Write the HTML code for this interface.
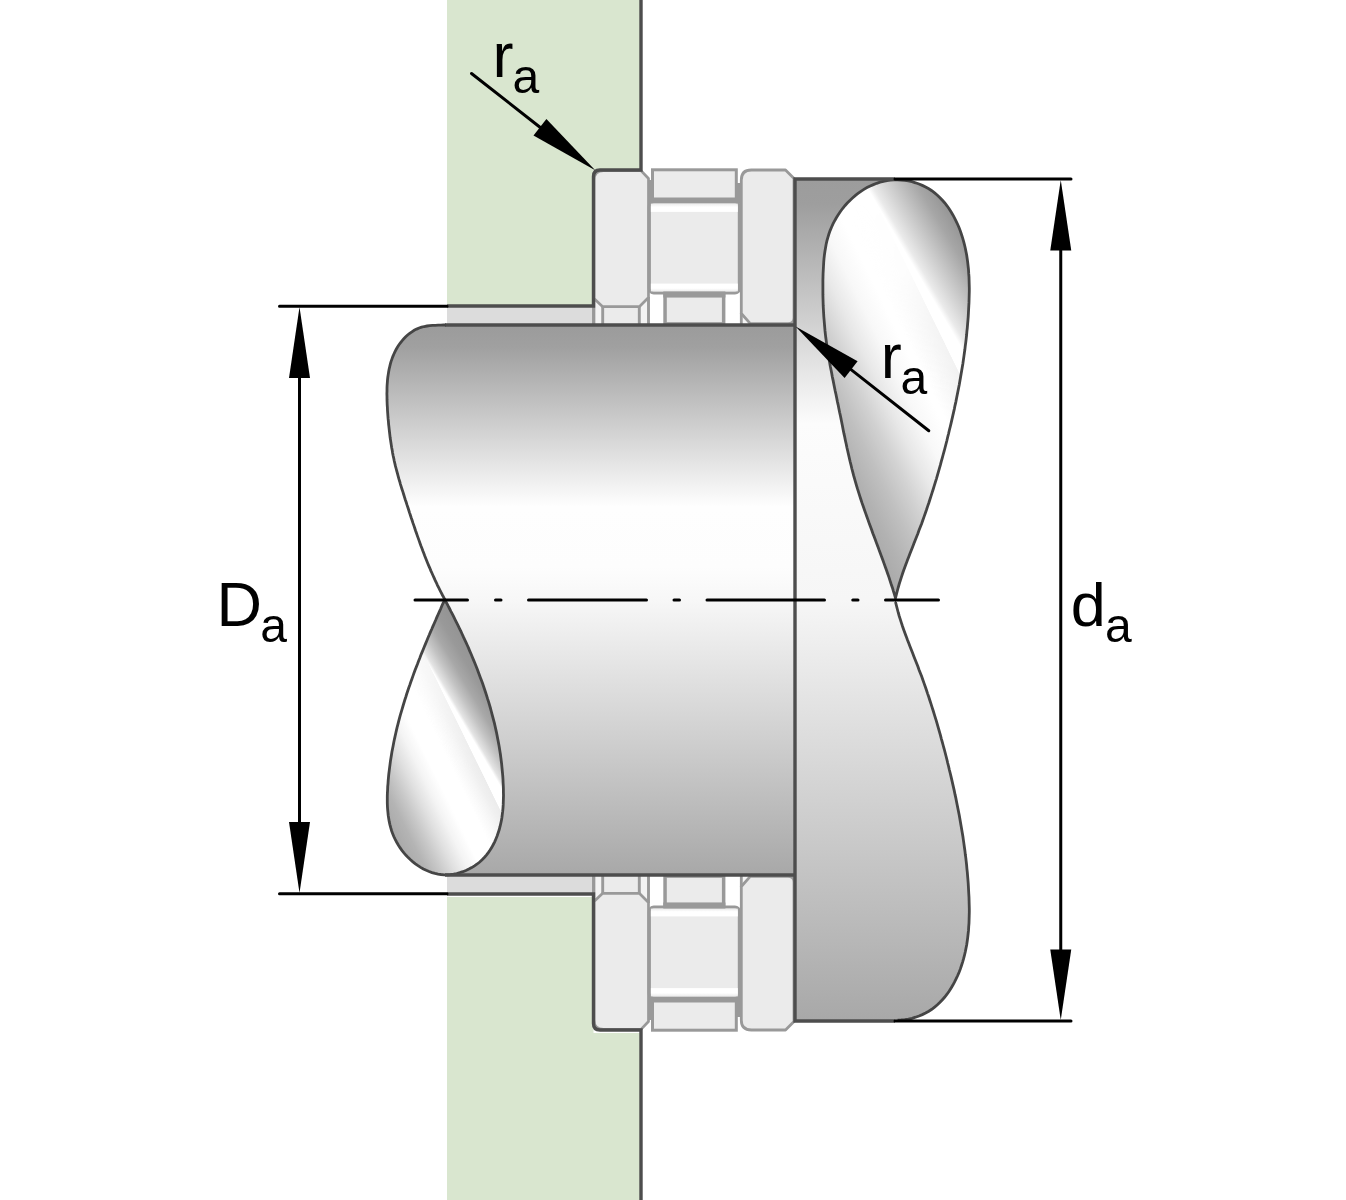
<!DOCTYPE html>
<html><head><meta charset="utf-8">
<style>
html,body{margin:0;padding:0;background:#fff;}
body{width:1346px;height:1200px;overflow:hidden;}
svg{display:block;}
text{font-family:"Liberation Sans",sans-serif;fill:#000;}
</style></head><body>
<svg width="1346" height="1200" viewBox="0 0 1346 1200">
<defs>
<linearGradient id="gShaft" gradientUnits="userSpaceOnUse" x1="0" y1="325" x2="0" y2="875">
<stop offset="0" stop-color="#9b9b9b"/><stop offset="0.04" stop-color="#a0a0a0"/><stop offset="0.33" stop-color="#fefefe"/><stop offset="0.44" stop-color="#fdfdfd"/><stop offset="0.5" stop-color="#f7f7f7"/><stop offset="1" stop-color="#a8a8a8"/>
</linearGradient>
<linearGradient id="gFlange" gradientUnits="userSpaceOnUse" x1="0" y1="179" x2="0" y2="1021">
<stop offset="0" stop-color="#9c9c9c"/><stop offset="0.03" stop-color="#9e9e9e"/><stop offset="0.29" stop-color="#fcfcfc"/><stop offset="0.5" stop-color="#f6f6f6"/><stop offset="1" stop-color="#a8a8a8"/>
</linearGradient>
<linearGradient id="gHi1" x1="0" y1="0" x2="0" y2="1"><stop offset="0" stop-color="#ebebeb"/><stop offset="0.42" stop-color="#fff"/><stop offset="1" stop-color="#fff"/></linearGradient>
<linearGradient id="gHi2" x1="0" y1="0" x2="0" y2="1"><stop offset="0" stop-color="#fff"/><stop offset="0.6" stop-color="#fff"/><stop offset="1" stop-color="#ebebeb"/></linearGradient>
<!--TD--><linearGradient id="gTearR" gradientUnits="userSpaceOnUse" x1="484.92" y1="-237.60" x2="691.46" y2="-338.80"><stop offset="0.0000" stop-color="#a8a8a8"/><stop offset="0.0870" stop-color="#b2b2b2"/><stop offset="0.1739" stop-color="#c0c0c0"/><stop offset="0.2609" stop-color="#d2d2d2"/><stop offset="0.3478" stop-color="#e8e8e8"/><stop offset="0.4348" stop-color="#f8f8f8"/><stop offset="0.5217" stop-color="#ffffff"/><stop offset="1.0000" stop-color="#ffffff"/></linearGradient>
<linearGradient id="gTearR2" gradientUnits="userSpaceOnUse" x1="561.76" y1="-330.89" x2="633.28" y2="-373.01"><stop offset="0.0000" stop-color="#eaeaea" stop-opacity="0"/><stop offset="0.0663" stop-color="#eaeaea"/><stop offset="0.1988" stop-color="#d6d6d6"/><stop offset="0.3675" stop-color="#bebebe"/><stop offset="0.5361" stop-color="#a6a6a6"/><stop offset="0.6928" stop-color="#989898"/><stop offset="1.0000" stop-color="#949494"/></linearGradient>
<linearGradient id="gTearR3" gradientUnits="userSpaceOnUse" x1="597.17" y1="-292.60" x2="628.60" y2="-308.00"><stop offset="0.0000" stop-color="#f4f4f4" stop-opacity="0"/><stop offset="0.6571" stop-color="#f4f4f4"/><stop offset="0.9143" stop-color="#f0f0f0"/><stop offset="0.9314" stop-color="#f0f0f0" stop-opacity="0"/><stop offset="1.0000" stop-color="#ececec" stop-opacity="0"/></linearGradient>
<linearGradient id="mR2" gradientUnits="userSpaceOnUse" x1="237.60" y1="484.92" x2="374.00" y2="763.30"><stop offset="0.0000" stop-color="#ffffff"/><stop offset="0.3226" stop-color="#f5f5f5"/><stop offset="0.5161" stop-color="#a0a0a0"/><stop offset="0.7645" stop-color="#282828"/><stop offset="1.0000" stop-color="#000000"/></linearGradient>
<linearGradient id="mR3" gradientUnits="userSpaceOnUse" x1="246.40" y1="502.88" x2="396.00" y2="808.20"><stop offset="0.0000" stop-color="#000000"/><stop offset="0.2353" stop-color="#282828"/><stop offset="0.4118" stop-color="#b4b4b4"/><stop offset="0.6382" stop-color="#ffffff"/><stop offset="1.0000" stop-color="#ffffff"/></linearGradient>
<linearGradient id="gTearL" gradientUnits="userSpaceOnUse" x1="-13.47" y1="6.60" x2="125.72" y2="-61.60"><stop offset="0.0000" stop-color="#a8a8a8"/><stop offset="0.0968" stop-color="#b4b4b4"/><stop offset="0.1742" stop-color="#c8c8c8"/><stop offset="0.2581" stop-color="#e0e0e0"/><stop offset="0.3419" stop-color="#f4f4f4"/><stop offset="0.4194" stop-color="#ffffff"/><stop offset="1.0000" stop-color="#ffffff"/></linearGradient>
<linearGradient id="gTearL2" gradientUnits="userSpaceOnUse" x1="27.57" y1="-16.24" x2="66.34" y2="-39.08"><stop offset="0.0000" stop-color="#e4e4e4" stop-opacity="0"/><stop offset="0.0667" stop-color="#e4e4e4"/><stop offset="0.2667" stop-color="#c4c4c4"/><stop offset="0.4889" stop-color="#a8a8a8"/><stop offset="0.7333" stop-color="#999999"/><stop offset="1.0000" stop-color="#949494"/></linearGradient>
<linearGradient id="gTearL3" gradientUnits="userSpaceOnUse" x1="61.06" y1="-29.92" x2="85.31" y2="-41.80"><stop offset="0.0000" stop-color="#f4f4f4" stop-opacity="0"/><stop offset="0.6667" stop-color="#f0f0f0"/><stop offset="0.9111" stop-color="#ececec"/><stop offset="0.9333" stop-color="#ececec" stop-opacity="0"/><stop offset="1.0000" stop-color="#e4e4e4" stop-opacity="0"/></linearGradient>
<linearGradient id="mL2" gradientUnits="userSpaceOnUse" x1="321.20" y1="655.54" x2="435.60" y2="889.02"><stop offset="0.0000" stop-color="#ffffff"/><stop offset="0.4615" stop-color="#ebebeb"/><stop offset="0.6538" stop-color="#969696"/><stop offset="0.8077" stop-color="#505050"/><stop offset="1.0000" stop-color="#141414"/></linearGradient>
<linearGradient id="mL3" gradientUnits="userSpaceOnUse" x1="321.20" y1="655.54" x2="440.00" y2="898.00"><stop offset="0.0000" stop-color="#282828"/><stop offset="0.4444" stop-color="#c8c8c8"/><stop offset="0.6296" stop-color="#ffffff"/><stop offset="1.0000" stop-color="#ffffff"/></linearGradient>
<mask id="kmR2" maskUnits="userSpaceOnUse" x="0" y="0" width="1346" height="1200"><rect x="0" y="0" width="1346" height="1200" fill="url(#mR2)"/></mask>
<mask id="kmR3" maskUnits="userSpaceOnUse" x="0" y="0" width="1346" height="1200"><rect x="0" y="0" width="1346" height="1200" fill="url(#mR3)"/></mask>
<mask id="kmL2" maskUnits="userSpaceOnUse" x="0" y="0" width="1346" height="1200"><rect x="0" y="0" width="1346" height="1200" fill="url(#mL2)"/></mask>
<mask id="kmL3" maskUnits="userSpaceOnUse" x="0" y="0" width="1346" height="1200"><rect x="0" y="0" width="1346" height="1200" fill="url(#mL3)"/></mask>
<!--/TD-->
</defs>

<!-- housing green -->
<path d="M447 0H641V170H593.5V306H447Z" fill="#d9e6cf"/>
<path d="M447 1200H641V1033H593.5V897H447Z" fill="#d9e6cf"/>
<!-- light grey strips -->
<rect x="447" y="307" width="147" height="18" fill="#dcdcdc"/>
<rect x="447" y="875" width="147" height="18" fill="#dcdcdc"/>

<!-- flange -->
<path id="flange" d="M795 179H897.6L897.6 179.8L901.2 180.0L904.8 180.4L908.4 180.9L912.0 181.7L915.5 182.8L919.0 184.0L922.3 185.4L925.6 187.0L928.8 188.8L931.8 190.7L934.6 192.9L937.4 195.2L940.0 197.7L942.4 200.3L944.8 203.0L947.0 205.8L949.1 208.8L951.0 211.8L952.9 214.9L954.6 218.1L956.2 221.3L957.7 224.5L959.1 227.8L960.4 231.1L961.5 234.5L962.6 237.9L963.6 241.3L964.5 244.8L965.3 248.2L966.0 251.7L966.7 255.3L967.2 258.8L967.7 262.4L968.1 266.0L968.5 269.6L968.7 273.2L969.0 276.8L969.1 280.4L969.2 284.1L969.3 287.7L969.3 291.4L969.2 295.0L969.1 298.7L969.0 302.4L968.8 306.0L968.6 309.7L968.4 313.3L968.2 316.9L967.9 320.6L967.6 324.2L967.3 327.8L966.9 331.4L966.6 335.0L966.2 338.6L965.8 342.1L965.3 345.7L964.9 349.3L964.4 352.8L963.9 356.4L963.4 359.9L962.9 363.5L962.3 367.0L961.7 370.5L961.1 374.0L960.5 377.6L959.9 381.1L959.3 384.6L958.6 388.1L957.9 391.6L957.2 395.1L956.5 398.6L955.8 402.1L955.0 405.6L954.3 409.1L953.5 412.6L952.7 416.1L951.9 419.6L951.1 423.1L950.3 426.5L949.4 430.0L948.6 433.5L947.7 437.0L946.9 440.5L946.0 444.0L945.1 447.5L944.2 451.0L943.2 454.5L942.3 457.9L941.3 461.4L940.4 464.9L939.4 468.4L938.4 471.9L937.4 475.3L936.4 478.8L935.3 482.3L934.3 485.7L933.2 489.2L932.1 492.6L931.0 496.1L929.9 499.5L928.8 503.0L927.6 506.4L926.5 509.8L925.3 513.2L924.1 516.6L922.9 520.0L921.7 523.4L920.4 526.8L919.1 530.1L917.9 533.5L916.6 536.8L915.2 540.2L913.9 543.5L912.6 546.9L911.3 550.2L910.0 553.5L908.7 556.9L907.4 560.2L906.2 563.6L904.9 567.0L903.7 570.3L902.5 573.7L901.4 577.1L900.3 580.6L899.2 584.0L898.2 587.5L897.3 591.0L896.4 594.5L895.5 598.0L895.5 602.0L896.4 605.5L897.3 609.0L898.2 612.5L899.2 616.0L900.3 619.4L901.4 622.9L902.5 626.3L903.7 629.7L904.9 633.0L906.2 636.4L907.4 639.8L908.7 643.1L910.0 646.5L911.3 649.8L912.6 653.1L913.9 656.5L915.2 659.8L916.6 663.2L917.9 666.5L919.1 669.9L920.4 673.2L921.7 676.6L922.9 680.0L924.1 683.4L925.3 686.8L926.5 690.2L927.6 693.6L928.8 697.0L929.9 700.5L931.0 703.9L932.1 707.4L933.2 710.8L934.3 714.3L935.3 717.7L936.4 721.2L937.4 724.7L938.4 728.1L939.4 731.6L940.4 735.1L941.3 738.6L942.3 742.1L943.2 745.5L944.2 749.0L945.1 752.5L946.0 756.0L946.9 759.5L947.7 763.0L948.6 766.5L949.4 770.0L950.3 773.5L951.1 776.9L951.9 780.4L952.7 783.9L953.5 787.4L954.3 790.9L955.0 794.4L955.8 797.9L956.5 801.4L957.2 804.9L957.9 808.4L958.6 811.9L959.3 815.4L959.9 818.9L960.5 822.4L961.1 826.0L961.7 829.5L962.3 833.0L962.9 836.5L963.4 840.1L963.9 843.6L964.4 847.2L964.9 850.7L965.3 854.3L965.8 857.9L966.2 861.4L966.6 865.0L966.9 868.6L967.3 872.2L967.6 875.8L967.9 879.4L968.2 883.1L968.4 886.7L968.6 890.3L968.8 894.0L969.0 897.6L969.1 901.3L969.2 905.0L969.3 908.6L969.3 912.3L969.2 915.9L969.1 919.6L969.0 923.2L968.7 926.8L968.5 930.4L968.1 934.0L967.7 937.6L967.2 941.2L966.7 944.7L966.0 948.3L965.3 951.8L964.5 955.2L963.6 958.7L962.6 962.1L961.5 965.5L960.4 968.9L959.1 972.2L957.7 975.5L956.2 978.7L954.6 981.9L952.9 985.1L951.0 988.2L949.1 991.2L947.0 994.2L944.8 997.0L942.4 999.7L940.0 1002.3L937.4 1004.8L934.6 1007.1L931.8 1009.3L928.8 1011.2L925.6 1013.0L922.3 1014.6L919.0 1016.0L915.5 1017.2L912.0 1018.3L908.4 1019.1L904.8 1019.6L901.2 1020.0L897.6 1020.2H795Z" fill="url(#gFlange)"/>
<!-- shaft -->
<path id="shaft" d="M795 325H446.0L446.0 325.0L443.5 325.0L440.8 325.1L438.1 325.2L435.3 325.3L432.5 325.4L429.7 325.6L427.0 326.0L424.3 326.5L421.6 327.1L419.1 328.0L416.6 329.1L414.2 330.3L411.9 331.8L409.7 333.3L407.6 335.0L405.7 336.8L403.8 338.8L402.0 340.8L400.4 342.9L398.8 345.0L397.4 347.2L396.1 349.5L394.9 351.8L393.8 354.2L392.8 356.6L391.9 359.1L391.0 361.6L390.3 364.1L389.7 366.7L389.1 369.3L388.6 372.0L388.2 374.6L387.8 377.3L387.5 380.0L387.3 382.8L387.1 385.5L387.0 388.3L387.0 391.1L386.9 393.8L387.0 396.6L387.0 399.4L387.1 402.2L387.2 405.0L387.4 407.7L387.5 410.5L387.7 413.2L387.9 416.0L388.1 418.7L388.4 421.4L388.6 424.1L388.9 426.7L389.2 429.4L389.5 432.0L389.8 434.7L390.1 437.3L390.5 439.9L390.9 442.5L391.3 445.1L391.7 447.7L392.2 450.3L392.6 452.9L393.1 455.5L393.7 458.1L394.2 460.7L394.8 463.3L395.4 465.9L396.1 468.5L396.8 471.1L397.5 473.7L398.2 476.3L398.9 478.9L399.7 481.5L400.4 484.1L401.2 486.7L402.0 489.3L402.9 491.9L403.7 494.5L404.5 497.1L405.3 499.7L406.2 502.3L407.0 504.9L407.9 507.5L408.7 510.0L409.5 512.6L410.4 515.2L411.2 517.7L412.1 520.3L412.9 522.9L413.8 525.4L414.7 528.0L415.5 530.5L416.4 533.0L417.3 535.6L418.2 538.1L419.1 540.6L420.0 543.2L420.9 545.7L421.9 548.2L422.8 550.7L423.8 553.2L424.7 555.7L425.7 558.2L426.7 560.7L427.7 563.2L428.7 565.6L429.8 568.1L430.8 570.6L431.9 573.0L433.0 575.5L434.1 577.9L435.2 580.4L436.4 582.8L437.5 585.3L438.7 587.7L439.9 590.1L441.2 592.6L442.4 595.0L443.7 597.4L444.9 599.8L444.9 600.2L446.6 602.9L448.0 605.7L449.5 608.5L450.9 611.3L452.4 614.1L453.8 616.9L455.2 619.8L456.6 622.6L458.0 625.4L459.4 628.3L460.8 631.1L462.1 634.0L463.4 636.9L464.8 639.8L466.1 642.6L467.4 645.5L468.7 648.4L469.9 651.4L471.2 654.3L472.4 657.2L473.6 660.1L474.8 663.1L476.0 666.0L477.2 669.0L478.3 671.9L479.4 674.9L480.5 677.9L481.6 680.8L482.7 683.8L483.7 686.8L484.7 689.8L485.7 692.8L486.7 695.8L487.6 698.9L488.6 701.9L489.5 704.9L490.4 708.0L491.2 711.0L492.0 714.1L492.8 717.1L493.6 720.2L494.4 723.2L495.1 726.3L495.8 729.4L496.5 732.5L497.1 735.6L497.7 738.7L498.3 741.8L498.9 744.9L499.4 748.0L499.9 751.1L500.4 754.3L500.8 757.4L501.2 760.5L501.6 763.7L501.9 766.8L502.2 770.0L502.5 773.1L502.8 776.3L503.0 779.5L503.1 782.6L503.3 785.8L503.4 789.0L503.4 792.2L503.5 795.4L503.4 798.6L503.3 801.7L503.2 804.9L503.0 808.1L502.7 811.2L502.3 814.4L501.9 817.5L501.4 820.6L500.7 823.7L500.0 826.7L499.2 829.8L498.2 832.8L497.2 835.8L496.0 838.7L494.8 841.6L493.3 844.5L491.8 847.3L490.1 850.0L488.3 852.6L486.4 855.1L484.3 857.5L482.1 859.8L479.7 862.0L477.2 864.0L474.5 865.9L471.7 867.6L468.9 869.1L465.9 870.5L462.9 871.7L459.8 872.7L456.7 873.5L453.6 874.1L450.4 874.6L447.3 874.8H795Z" fill="url(#gShaft)"/>

<!-- teardrops -->
<path d="M895.5 598.0L896.4 594.5L897.3 591.0L898.2 587.5L899.2 584.0L900.3 580.6L901.4 577.1L902.5 573.7L903.7 570.3L904.9 567.0L906.2 563.6L907.4 560.2L908.7 556.9L910.0 553.5L911.3 550.2L912.6 546.9L913.9 543.5L915.2 540.2L916.6 536.8L917.9 533.5L919.1 530.1L920.4 526.8L921.7 523.4L922.9 520.0L924.1 516.6L925.3 513.2L926.5 509.8L927.6 506.4L928.8 503.0L929.9 499.5L931.0 496.1L932.1 492.6L933.2 489.2L934.3 485.7L935.3 482.3L936.4 478.8L937.4 475.3L938.4 471.9L939.4 468.4L940.4 464.9L941.3 461.4L942.3 457.9L943.2 454.5L944.2 451.0L945.1 447.5L946.0 444.0L946.9 440.5L947.7 437.0L948.6 433.5L949.4 430.0L950.3 426.5L951.1 423.1L951.9 419.6L952.7 416.1L953.5 412.6L954.3 409.1L955.0 405.6L955.8 402.1L956.5 398.6L957.2 395.1L957.9 391.6L958.6 388.1L959.3 384.6L959.9 381.1L960.5 377.6L961.1 374.0L961.7 370.5L962.3 367.0L962.9 363.5L963.4 359.9L963.9 356.4L964.4 352.8L964.9 349.3L965.3 345.7L965.8 342.1L966.2 338.6L966.6 335.0L966.9 331.4L967.3 327.8L967.6 324.2L967.9 320.6L968.2 316.9L968.4 313.3L968.6 309.7L968.8 306.0L969.0 302.4L969.1 298.7L969.2 295.0L969.3 291.4L969.3 287.7L969.2 284.1L969.1 280.4L969.0 276.8L968.7 273.2L968.5 269.6L968.1 266.0L967.7 262.4L967.2 258.8L966.7 255.3L966.0 251.7L965.3 248.2L964.5 244.8L963.6 241.3L962.6 237.9L961.5 234.5L960.4 231.1L959.1 227.8L957.7 224.5L956.2 221.3L954.6 218.1L952.9 214.9L951.0 211.8L949.1 208.8L947.0 205.8L944.8 203.0L942.4 200.3L940.0 197.7L937.4 195.2L934.6 192.9L931.8 190.7L928.8 188.8L925.6 187.0L922.3 185.4L919.0 184.0L915.5 182.8L912.0 181.7L908.4 180.9L904.8 180.4L901.2 180.0L897.6 179.8L894.0 179.9L890.4 180.2L886.9 180.6L883.4 181.3L880.0 182.2L876.7 183.3L873.4 184.6L870.2 186.0L867.0 187.6L863.9 189.4L860.9 191.3L858.0 193.4L855.2 195.6L852.5 198.0L849.9 200.4L847.3 203.0L844.9 205.7L842.6 208.5L840.4 211.5L838.4 214.5L836.5 217.5L834.7 220.7L833.0 223.9L831.5 227.2L830.1 230.6L828.9 234.0L827.9 237.4L826.9 240.9L826.1 244.4L825.5 248.0L824.9 251.5L824.4 255.1L824.0 258.7L823.7 262.4L823.5 266.0L823.3 269.6L823.1 273.2L823.0 276.9L822.9 280.5L822.9 284.1L822.9 287.7L822.9 291.3L822.9 294.9L823.0 298.5L823.1 302.1L823.2 305.7L823.4 309.3L823.6 312.9L823.8 316.5L824.1 320.0L824.4 323.6L824.7 327.2L825.0 330.7L825.4 334.3L825.8 337.8L826.3 341.4L826.8 344.9L827.3 348.5L827.9 352.0L828.4 355.6L829.0 359.1L829.7 362.7L830.3 366.2L831.0 369.8L831.7 373.3L832.3 376.8L833.1 380.4L833.8 383.9L834.5 387.4L835.2 391.0L836.0 394.5L836.7 398.1L837.4 401.6L838.2 405.1L838.9 408.7L839.6 412.2L840.4 415.7L841.1 419.3L841.8 422.8L842.5 426.3L843.2 429.9L843.9 433.4L844.7 436.9L845.4 440.4L846.2 444.0L846.9 447.5L847.7 451.0L848.5 454.5L849.3 458.0L850.1 461.5L851.0 465.0L851.8 468.5L852.7 471.9L853.6 475.4L854.6 478.9L855.6 482.3L856.6 485.8L857.6 489.2L858.7 492.6L859.8 496.1L860.9 499.5L862.0 502.9L863.2 506.3L864.4 509.7L865.6 513.1L866.8 516.5L868.0 519.9L869.2 523.3L870.5 526.7L871.7 530.0L872.9 533.4L874.2 536.8L875.5 540.2L876.7 543.6L878.0 546.9L879.2 550.3L880.5 553.7L881.7 557.1L883.0 560.5L884.2 563.9L885.4 567.3L886.6 570.6L887.8 574.0L889.0 577.4L890.1 580.9L891.2 584.3L892.4 587.7L893.4 591.1L894.5 594.5L895.5 598.0Z" fill="url(#gTearR)"/>
<path d="M895.5 598.0L896.4 594.5L897.3 591.0L898.2 587.5L899.2 584.0L900.3 580.6L901.4 577.1L902.5 573.7L903.7 570.3L904.9 567.0L906.2 563.6L907.4 560.2L908.7 556.9L910.0 553.5L911.3 550.2L912.6 546.9L913.9 543.5L915.2 540.2L916.6 536.8L917.9 533.5L919.1 530.1L920.4 526.8L921.7 523.4L922.9 520.0L924.1 516.6L925.3 513.2L926.5 509.8L927.6 506.4L928.8 503.0L929.9 499.5L931.0 496.1L932.1 492.6L933.2 489.2L934.3 485.7L935.3 482.3L936.4 478.8L937.4 475.3L938.4 471.9L939.4 468.4L940.4 464.9L941.3 461.4L942.3 457.9L943.2 454.5L944.2 451.0L945.1 447.5L946.0 444.0L946.9 440.5L947.7 437.0L948.6 433.5L949.4 430.0L950.3 426.5L951.1 423.1L951.9 419.6L952.7 416.1L953.5 412.6L954.3 409.1L955.0 405.6L955.8 402.1L956.5 398.6L957.2 395.1L957.9 391.6L958.6 388.1L959.3 384.6L959.9 381.1L960.5 377.6L961.1 374.0L961.7 370.5L962.3 367.0L962.9 363.5L963.4 359.9L963.9 356.4L964.4 352.8L964.9 349.3L965.3 345.7L965.8 342.1L966.2 338.6L966.6 335.0L966.9 331.4L967.3 327.8L967.6 324.2L967.9 320.6L968.2 316.9L968.4 313.3L968.6 309.7L968.8 306.0L969.0 302.4L969.1 298.7L969.2 295.0L969.3 291.4L969.3 287.7L969.2 284.1L969.1 280.4L969.0 276.8L968.7 273.2L968.5 269.6L968.1 266.0L967.7 262.4L967.2 258.8L966.7 255.3L966.0 251.7L965.3 248.2L964.5 244.8L963.6 241.3L962.6 237.9L961.5 234.5L960.4 231.1L959.1 227.8L957.7 224.5L956.2 221.3L954.6 218.1L952.9 214.9L951.0 211.8L949.1 208.8L947.0 205.8L944.8 203.0L942.4 200.3L940.0 197.7L937.4 195.2L934.6 192.9L931.8 190.7L928.8 188.8L925.6 187.0L922.3 185.4L919.0 184.0L915.5 182.8L912.0 181.7L908.4 180.9L904.8 180.4L901.2 180.0L897.6 179.8L894.0 179.9L890.4 180.2L886.9 180.6L883.4 181.3L880.0 182.2L876.7 183.3L873.4 184.6L870.2 186.0L867.0 187.6L863.9 189.4L860.9 191.3L858.0 193.4L855.2 195.6L852.5 198.0L849.9 200.4L847.3 203.0L844.9 205.7L842.6 208.5L840.4 211.5L838.4 214.5L836.5 217.5L834.7 220.7L833.0 223.9L831.5 227.2L830.1 230.6L828.9 234.0L827.9 237.4L826.9 240.9L826.1 244.4L825.5 248.0L824.9 251.5L824.4 255.1L824.0 258.7L823.7 262.4L823.5 266.0L823.3 269.6L823.1 273.2L823.0 276.9L822.9 280.5L822.9 284.1L822.9 287.7L822.9 291.3L822.9 294.9L823.0 298.5L823.1 302.1L823.2 305.7L823.4 309.3L823.6 312.9L823.8 316.5L824.1 320.0L824.4 323.6L824.7 327.2L825.0 330.7L825.4 334.3L825.8 337.8L826.3 341.4L826.8 344.9L827.3 348.5L827.9 352.0L828.4 355.6L829.0 359.1L829.7 362.7L830.3 366.2L831.0 369.8L831.7 373.3L832.3 376.8L833.1 380.4L833.8 383.9L834.5 387.4L835.2 391.0L836.0 394.5L836.7 398.1L837.4 401.6L838.2 405.1L838.9 408.7L839.6 412.2L840.4 415.7L841.1 419.3L841.8 422.8L842.5 426.3L843.2 429.9L843.9 433.4L844.7 436.9L845.4 440.4L846.2 444.0L846.9 447.5L847.7 451.0L848.5 454.5L849.3 458.0L850.1 461.5L851.0 465.0L851.8 468.5L852.7 471.9L853.6 475.4L854.6 478.9L855.6 482.3L856.6 485.8L857.6 489.2L858.7 492.6L859.8 496.1L860.9 499.5L862.0 502.9L863.2 506.3L864.4 509.7L865.6 513.1L866.8 516.5L868.0 519.9L869.2 523.3L870.5 526.7L871.7 530.0L872.9 533.4L874.2 536.8L875.5 540.2L876.7 543.6L878.0 546.9L879.2 550.3L880.5 553.7L881.7 557.1L883.0 560.5L884.2 563.9L885.4 567.3L886.6 570.6L887.8 574.0L889.0 577.4L890.1 580.9L891.2 584.3L892.4 587.7L893.4 591.1L894.5 594.5L895.5 598.0Z" fill="url(#gTearR2)"/>
<path d="M895.5 598.0L896.4 594.5L897.3 591.0L898.2 587.5L899.2 584.0L900.3 580.6L901.4 577.1L902.5 573.7L903.7 570.3L904.9 567.0L906.2 563.6L907.4 560.2L908.7 556.9L910.0 553.5L911.3 550.2L912.6 546.9L913.9 543.5L915.2 540.2L916.6 536.8L917.9 533.5L919.1 530.1L920.4 526.8L921.7 523.4L922.9 520.0L924.1 516.6L925.3 513.2L926.5 509.8L927.6 506.4L928.8 503.0L929.9 499.5L931.0 496.1L932.1 492.6L933.2 489.2L934.3 485.7L935.3 482.3L936.4 478.8L937.4 475.3L938.4 471.9L939.4 468.4L940.4 464.9L941.3 461.4L942.3 457.9L943.2 454.5L944.2 451.0L945.1 447.5L946.0 444.0L946.9 440.5L947.7 437.0L948.6 433.5L949.4 430.0L950.3 426.5L951.1 423.1L951.9 419.6L952.7 416.1L953.5 412.6L954.3 409.1L955.0 405.6L955.8 402.1L956.5 398.6L957.2 395.1L957.9 391.6L958.6 388.1L959.3 384.6L959.9 381.1L960.5 377.6L961.1 374.0L961.7 370.5L962.3 367.0L962.9 363.5L963.4 359.9L963.9 356.4L964.4 352.8L964.9 349.3L965.3 345.7L965.8 342.1L966.2 338.6L966.6 335.0L966.9 331.4L967.3 327.8L967.6 324.2L967.9 320.6L968.2 316.9L968.4 313.3L968.6 309.7L968.8 306.0L969.0 302.4L969.1 298.7L969.2 295.0L969.3 291.4L969.3 287.7L969.2 284.1L969.1 280.4L969.0 276.8L968.7 273.2L968.5 269.6L968.1 266.0L967.7 262.4L967.2 258.8L966.7 255.3L966.0 251.7L965.3 248.2L964.5 244.8L963.6 241.3L962.6 237.9L961.5 234.5L960.4 231.1L959.1 227.8L957.7 224.5L956.2 221.3L954.6 218.1L952.9 214.9L951.0 211.8L949.1 208.8L947.0 205.8L944.8 203.0L942.4 200.3L940.0 197.7L937.4 195.2L934.6 192.9L931.8 190.7L928.8 188.8L925.6 187.0L922.3 185.4L919.0 184.0L915.5 182.8L912.0 181.7L908.4 180.9L904.8 180.4L901.2 180.0L897.6 179.8L894.0 179.9L890.4 180.2L886.9 180.6L883.4 181.3L880.0 182.2L876.7 183.3L873.4 184.6L870.2 186.0L867.0 187.6L863.9 189.4L860.9 191.3L858.0 193.4L855.2 195.6L852.5 198.0L849.9 200.4L847.3 203.0L844.9 205.7L842.6 208.5L840.4 211.5L838.4 214.5L836.5 217.5L834.7 220.7L833.0 223.9L831.5 227.2L830.1 230.6L828.9 234.0L827.9 237.4L826.9 240.9L826.1 244.4L825.5 248.0L824.9 251.5L824.4 255.1L824.0 258.7L823.7 262.4L823.5 266.0L823.3 269.6L823.1 273.2L823.0 276.9L822.9 280.5L822.9 284.1L822.9 287.7L822.9 291.3L822.9 294.9L823.0 298.5L823.1 302.1L823.2 305.7L823.4 309.3L823.6 312.9L823.8 316.5L824.1 320.0L824.4 323.6L824.7 327.2L825.0 330.7L825.4 334.3L825.8 337.8L826.3 341.4L826.8 344.9L827.3 348.5L827.9 352.0L828.4 355.6L829.0 359.1L829.7 362.7L830.3 366.2L831.0 369.8L831.7 373.3L832.3 376.8L833.1 380.4L833.8 383.9L834.5 387.4L835.2 391.0L836.0 394.5L836.7 398.1L837.4 401.6L838.2 405.1L838.9 408.7L839.6 412.2L840.4 415.7L841.1 419.3L841.8 422.8L842.5 426.3L843.2 429.9L843.9 433.4L844.7 436.9L845.4 440.4L846.2 444.0L846.9 447.5L847.7 451.0L848.5 454.5L849.3 458.0L850.1 461.5L851.0 465.0L851.8 468.5L852.7 471.9L853.6 475.4L854.6 478.9L855.6 482.3L856.6 485.8L857.6 489.2L858.7 492.6L859.8 496.1L860.9 499.5L862.0 502.9L863.2 506.3L864.4 509.7L865.6 513.1L866.8 516.5L868.0 519.9L869.2 523.3L870.5 526.7L871.7 530.0L872.9 533.4L874.2 536.8L875.5 540.2L876.7 543.6L878.0 546.9L879.2 550.3L880.5 553.7L881.7 557.1L883.0 560.5L884.2 563.9L885.4 567.3L886.6 570.6L887.8 574.0L889.0 577.4L890.1 580.9L891.2 584.3L892.4 587.7L893.4 591.1L894.5 594.5L895.5 598.0Z" fill="url(#gTearR3)" mask="url(#kmR3)"/>
<path id="tearR" d="M895.5 598.0L896.4 594.5L897.3 591.0L898.2 587.5L899.2 584.0L900.3 580.6L901.4 577.1L902.5 573.7L903.7 570.3L904.9 567.0L906.2 563.6L907.4 560.2L908.7 556.9L910.0 553.5L911.3 550.2L912.6 546.9L913.9 543.5L915.2 540.2L916.6 536.8L917.9 533.5L919.1 530.1L920.4 526.8L921.7 523.4L922.9 520.0L924.1 516.6L925.3 513.2L926.5 509.8L927.6 506.4L928.8 503.0L929.9 499.5L931.0 496.1L932.1 492.6L933.2 489.2L934.3 485.7L935.3 482.3L936.4 478.8L937.4 475.3L938.4 471.9L939.4 468.4L940.4 464.9L941.3 461.4L942.3 457.9L943.2 454.5L944.2 451.0L945.1 447.5L946.0 444.0L946.9 440.5L947.7 437.0L948.6 433.5L949.4 430.0L950.3 426.5L951.1 423.1L951.9 419.6L952.7 416.1L953.5 412.6L954.3 409.1L955.0 405.6L955.8 402.1L956.5 398.6L957.2 395.1L957.9 391.6L958.6 388.1L959.3 384.6L959.9 381.1L960.5 377.6L961.1 374.0L961.7 370.5L962.3 367.0L962.9 363.5L963.4 359.9L963.9 356.4L964.4 352.8L964.9 349.3L965.3 345.7L965.8 342.1L966.2 338.6L966.6 335.0L966.9 331.4L967.3 327.8L967.6 324.2L967.9 320.6L968.2 316.9L968.4 313.3L968.6 309.7L968.8 306.0L969.0 302.4L969.1 298.7L969.2 295.0L969.3 291.4L969.3 287.7L969.2 284.1L969.1 280.4L969.0 276.8L968.7 273.2L968.5 269.6L968.1 266.0L967.7 262.4L967.2 258.8L966.7 255.3L966.0 251.7L965.3 248.2L964.5 244.8L963.6 241.3L962.6 237.9L961.5 234.5L960.4 231.1L959.1 227.8L957.7 224.5L956.2 221.3L954.6 218.1L952.9 214.9L951.0 211.8L949.1 208.8L947.0 205.8L944.8 203.0L942.4 200.3L940.0 197.7L937.4 195.2L934.6 192.9L931.8 190.7L928.8 188.8L925.6 187.0L922.3 185.4L919.0 184.0L915.5 182.8L912.0 181.7L908.4 180.9L904.8 180.4L901.2 180.0L897.6 179.8L894.0 179.9L890.4 180.2L886.9 180.6L883.4 181.3L880.0 182.2L876.7 183.3L873.4 184.6L870.2 186.0L867.0 187.6L863.9 189.4L860.9 191.3L858.0 193.4L855.2 195.6L852.5 198.0L849.9 200.4L847.3 203.0L844.9 205.7L842.6 208.5L840.4 211.5L838.4 214.5L836.5 217.5L834.7 220.7L833.0 223.9L831.5 227.2L830.1 230.6L828.9 234.0L827.9 237.4L826.9 240.9L826.1 244.4L825.5 248.0L824.9 251.5L824.4 255.1L824.0 258.7L823.7 262.4L823.5 266.0L823.3 269.6L823.1 273.2L823.0 276.9L822.9 280.5L822.9 284.1L822.9 287.7L822.9 291.3L822.9 294.9L823.0 298.5L823.1 302.1L823.2 305.7L823.4 309.3L823.6 312.9L823.8 316.5L824.1 320.0L824.4 323.6L824.7 327.2L825.0 330.7L825.4 334.3L825.8 337.8L826.3 341.4L826.8 344.9L827.3 348.5L827.9 352.0L828.4 355.6L829.0 359.1L829.7 362.7L830.3 366.2L831.0 369.8L831.7 373.3L832.3 376.8L833.1 380.4L833.8 383.9L834.5 387.4L835.2 391.0L836.0 394.5L836.7 398.1L837.4 401.6L838.2 405.1L838.9 408.7L839.6 412.2L840.4 415.7L841.1 419.3L841.8 422.8L842.5 426.3L843.2 429.9L843.9 433.4L844.7 436.9L845.4 440.4L846.2 444.0L846.9 447.5L847.7 451.0L848.5 454.5L849.3 458.0L850.1 461.5L851.0 465.0L851.8 468.5L852.7 471.9L853.6 475.4L854.6 478.9L855.6 482.3L856.6 485.8L857.6 489.2L858.7 492.6L859.8 496.1L860.9 499.5L862.0 502.9L863.2 506.3L864.4 509.7L865.6 513.1L866.8 516.5L868.0 519.9L869.2 523.3L870.5 526.7L871.7 530.0L872.9 533.4L874.2 536.8L875.5 540.2L876.7 543.6L878.0 546.9L879.2 550.3L880.5 553.7L881.7 557.1L883.0 560.5L884.2 563.9L885.4 567.3L886.6 570.6L887.8 574.0L889.0 577.4L890.1 580.9L891.2 584.3L892.4 587.7L893.4 591.1L894.5 594.5L895.5 598.0Z" fill="none" stroke="#454545" stroke-width="2.8"/>
<path d="M444.9 600.2L446.6 602.9L448.0 605.7L449.5 608.5L450.9 611.3L452.4 614.1L453.8 616.9L455.2 619.8L456.6 622.6L458.0 625.4L459.4 628.3L460.8 631.1L462.1 634.0L463.4 636.9L464.8 639.8L466.1 642.6L467.4 645.5L468.7 648.4L469.9 651.4L471.2 654.3L472.4 657.2L473.6 660.1L474.8 663.1L476.0 666.0L477.2 669.0L478.3 671.9L479.4 674.9L480.5 677.9L481.6 680.8L482.7 683.8L483.7 686.8L484.7 689.8L485.7 692.8L486.7 695.8L487.6 698.9L488.6 701.9L489.5 704.9L490.4 708.0L491.2 711.0L492.0 714.1L492.8 717.1L493.6 720.2L494.4 723.2L495.1 726.3L495.8 729.4L496.5 732.5L497.1 735.6L497.7 738.7L498.3 741.8L498.9 744.9L499.4 748.0L499.9 751.1L500.4 754.3L500.8 757.4L501.2 760.5L501.6 763.7L501.9 766.8L502.2 770.0L502.5 773.1L502.8 776.3L503.0 779.5L503.1 782.6L503.3 785.8L503.4 789.0L503.4 792.2L503.5 795.4L503.4 798.6L503.3 801.7L503.2 804.9L503.0 808.1L502.7 811.2L502.3 814.4L501.9 817.5L501.4 820.6L500.7 823.7L500.0 826.7L499.2 829.8L498.2 832.8L497.2 835.8L496.0 838.7L494.8 841.6L493.3 844.5L491.8 847.3L490.1 850.0L488.3 852.6L486.4 855.1L484.3 857.5L482.1 859.8L479.7 862.0L477.2 864.0L474.5 865.9L471.7 867.6L468.9 869.1L465.9 870.5L462.9 871.7L459.8 872.7L456.7 873.5L453.6 874.1L450.4 874.6L447.3 874.8L444.1 874.8L441.0 874.5L438.0 874.1L435.0 873.4L432.0 872.6L429.1 871.5L426.2 870.3L423.4 869.0L420.6 867.4L418.0 865.7L415.4 863.9L412.9 861.9L410.5 859.8L408.2 857.6L406.0 855.3L403.9 852.8L401.9 850.3L400.0 847.7L398.3 845.0L396.7 842.2L395.2 839.4L393.8 836.5L392.6 833.6L391.6 830.7L390.7 827.7L389.9 824.6L389.2 821.6L388.7 818.5L388.2 815.4L387.9 812.2L387.6 809.1L387.4 805.9L387.3 802.7L387.3 799.5L387.3 796.3L387.4 793.1L387.6 789.9L387.7 786.7L388.0 783.6L388.2 780.4L388.5 777.2L388.8 774.0L389.2 770.9L389.6 767.7L390.0 764.6L390.4 761.4L390.9 758.3L391.4 755.2L391.9 752.1L392.5 749.0L393.1 745.9L393.7 742.8L394.3 739.7L395.0 736.6L395.7 733.5L396.4 730.4L397.1 727.4L397.9 724.3L398.7 721.2L399.5 718.2L400.3 715.1L401.2 712.1L402.1 709.1L403.0 706.0L403.9 703.0L404.8 700.0L405.8 697.0L406.7 694.0L407.7 691.0L408.7 688.0L409.8 685.0L410.8 682.0L411.9 679.0L412.9 676.1L414.0 673.1L415.1 670.1L416.2 667.2L417.4 664.2L418.5 661.2L419.7 658.3L420.8 655.3L422.0 652.4L423.2 649.5L424.4 646.5L425.6 643.6L426.8 640.7L428.0 637.7L429.3 634.8L430.5 631.9L431.8 629.0L433.0 626.1L434.3 623.2L435.6 620.3L436.8 617.4L438.1 614.5L439.4 611.6L440.7 608.7L441.9 605.8L443.2 602.9L444.9 600.2Z" fill="url(#gTearL)"/>
<path d="M444.9 600.2L446.6 602.9L448.0 605.7L449.5 608.5L450.9 611.3L452.4 614.1L453.8 616.9L455.2 619.8L456.6 622.6L458.0 625.4L459.4 628.3L460.8 631.1L462.1 634.0L463.4 636.9L464.8 639.8L466.1 642.6L467.4 645.5L468.7 648.4L469.9 651.4L471.2 654.3L472.4 657.2L473.6 660.1L474.8 663.1L476.0 666.0L477.2 669.0L478.3 671.9L479.4 674.9L480.5 677.9L481.6 680.8L482.7 683.8L483.7 686.8L484.7 689.8L485.7 692.8L486.7 695.8L487.6 698.9L488.6 701.9L489.5 704.9L490.4 708.0L491.2 711.0L492.0 714.1L492.8 717.1L493.6 720.2L494.4 723.2L495.1 726.3L495.8 729.4L496.5 732.5L497.1 735.6L497.7 738.7L498.3 741.8L498.9 744.9L499.4 748.0L499.9 751.1L500.4 754.3L500.8 757.4L501.2 760.5L501.6 763.7L501.9 766.8L502.2 770.0L502.5 773.1L502.8 776.3L503.0 779.5L503.1 782.6L503.3 785.8L503.4 789.0L503.4 792.2L503.5 795.4L503.4 798.6L503.3 801.7L503.2 804.9L503.0 808.1L502.7 811.2L502.3 814.4L501.9 817.5L501.4 820.6L500.7 823.7L500.0 826.7L499.2 829.8L498.2 832.8L497.2 835.8L496.0 838.7L494.8 841.6L493.3 844.5L491.8 847.3L490.1 850.0L488.3 852.6L486.4 855.1L484.3 857.5L482.1 859.8L479.7 862.0L477.2 864.0L474.5 865.9L471.7 867.6L468.9 869.1L465.9 870.5L462.9 871.7L459.8 872.7L456.7 873.5L453.6 874.1L450.4 874.6L447.3 874.8L444.1 874.8L441.0 874.5L438.0 874.1L435.0 873.4L432.0 872.6L429.1 871.5L426.2 870.3L423.4 869.0L420.6 867.4L418.0 865.7L415.4 863.9L412.9 861.9L410.5 859.8L408.2 857.6L406.0 855.3L403.9 852.8L401.9 850.3L400.0 847.7L398.3 845.0L396.7 842.2L395.2 839.4L393.8 836.5L392.6 833.6L391.6 830.7L390.7 827.7L389.9 824.6L389.2 821.6L388.7 818.5L388.2 815.4L387.9 812.2L387.6 809.1L387.4 805.9L387.3 802.7L387.3 799.5L387.3 796.3L387.4 793.1L387.6 789.9L387.7 786.7L388.0 783.6L388.2 780.4L388.5 777.2L388.8 774.0L389.2 770.9L389.6 767.7L390.0 764.6L390.4 761.4L390.9 758.3L391.4 755.2L391.9 752.1L392.5 749.0L393.1 745.9L393.7 742.8L394.3 739.7L395.0 736.6L395.7 733.5L396.4 730.4L397.1 727.4L397.9 724.3L398.7 721.2L399.5 718.2L400.3 715.1L401.2 712.1L402.1 709.1L403.0 706.0L403.9 703.0L404.8 700.0L405.8 697.0L406.7 694.0L407.7 691.0L408.7 688.0L409.8 685.0L410.8 682.0L411.9 679.0L412.9 676.1L414.0 673.1L415.1 670.1L416.2 667.2L417.4 664.2L418.5 661.2L419.7 658.3L420.8 655.3L422.0 652.4L423.2 649.5L424.4 646.5L425.6 643.6L426.8 640.7L428.0 637.7L429.3 634.8L430.5 631.9L431.8 629.0L433.0 626.1L434.3 623.2L435.6 620.3L436.8 617.4L438.1 614.5L439.4 611.6L440.7 608.7L441.9 605.8L443.2 602.9L444.9 600.2Z" fill="url(#gTearL2)"/>
<path d="M444.9 600.2L446.6 602.9L448.0 605.7L449.5 608.5L450.9 611.3L452.4 614.1L453.8 616.9L455.2 619.8L456.6 622.6L458.0 625.4L459.4 628.3L460.8 631.1L462.1 634.0L463.4 636.9L464.8 639.8L466.1 642.6L467.4 645.5L468.7 648.4L469.9 651.4L471.2 654.3L472.4 657.2L473.6 660.1L474.8 663.1L476.0 666.0L477.2 669.0L478.3 671.9L479.4 674.9L480.5 677.9L481.6 680.8L482.7 683.8L483.7 686.8L484.7 689.8L485.7 692.8L486.7 695.8L487.6 698.9L488.6 701.9L489.5 704.9L490.4 708.0L491.2 711.0L492.0 714.1L492.8 717.1L493.6 720.2L494.4 723.2L495.1 726.3L495.8 729.4L496.5 732.5L497.1 735.6L497.7 738.7L498.3 741.8L498.9 744.9L499.4 748.0L499.9 751.1L500.4 754.3L500.8 757.4L501.2 760.5L501.6 763.7L501.9 766.8L502.2 770.0L502.5 773.1L502.8 776.3L503.0 779.5L503.1 782.6L503.3 785.8L503.4 789.0L503.4 792.2L503.5 795.4L503.4 798.6L503.3 801.7L503.2 804.9L503.0 808.1L502.7 811.2L502.3 814.4L501.9 817.5L501.4 820.6L500.7 823.7L500.0 826.7L499.2 829.8L498.2 832.8L497.2 835.8L496.0 838.7L494.8 841.6L493.3 844.5L491.8 847.3L490.1 850.0L488.3 852.6L486.4 855.1L484.3 857.5L482.1 859.8L479.7 862.0L477.2 864.0L474.5 865.9L471.7 867.6L468.9 869.1L465.9 870.5L462.9 871.7L459.8 872.7L456.7 873.5L453.6 874.1L450.4 874.6L447.3 874.8L444.1 874.8L441.0 874.5L438.0 874.1L435.0 873.4L432.0 872.6L429.1 871.5L426.2 870.3L423.4 869.0L420.6 867.4L418.0 865.7L415.4 863.9L412.9 861.9L410.5 859.8L408.2 857.6L406.0 855.3L403.9 852.8L401.9 850.3L400.0 847.7L398.3 845.0L396.7 842.2L395.2 839.4L393.8 836.5L392.6 833.6L391.6 830.7L390.7 827.7L389.9 824.6L389.2 821.6L388.7 818.5L388.2 815.4L387.9 812.2L387.6 809.1L387.4 805.9L387.3 802.7L387.3 799.5L387.3 796.3L387.4 793.1L387.6 789.9L387.7 786.7L388.0 783.6L388.2 780.4L388.5 777.2L388.8 774.0L389.2 770.9L389.6 767.7L390.0 764.6L390.4 761.4L390.9 758.3L391.4 755.2L391.9 752.1L392.5 749.0L393.1 745.9L393.7 742.8L394.3 739.7L395.0 736.6L395.7 733.5L396.4 730.4L397.1 727.4L397.9 724.3L398.7 721.2L399.5 718.2L400.3 715.1L401.2 712.1L402.1 709.1L403.0 706.0L403.9 703.0L404.8 700.0L405.8 697.0L406.7 694.0L407.7 691.0L408.7 688.0L409.8 685.0L410.8 682.0L411.9 679.0L412.9 676.1L414.0 673.1L415.1 670.1L416.2 667.2L417.4 664.2L418.5 661.2L419.7 658.3L420.8 655.3L422.0 652.4L423.2 649.5L424.4 646.5L425.6 643.6L426.8 640.7L428.0 637.7L429.3 634.8L430.5 631.9L431.8 629.0L433.0 626.1L434.3 623.2L435.6 620.3L436.8 617.4L438.1 614.5L439.4 611.6L440.7 608.7L441.9 605.8L443.2 602.9L444.9 600.2Z" fill="url(#gTearL3)" mask="url(#kmL3)"/>
<path id="tearL" d="M444.9 600.2L446.6 602.9L448.0 605.7L449.5 608.5L450.9 611.3L452.4 614.1L453.8 616.9L455.2 619.8L456.6 622.6L458.0 625.4L459.4 628.3L460.8 631.1L462.1 634.0L463.4 636.9L464.8 639.8L466.1 642.6L467.4 645.5L468.7 648.4L469.9 651.4L471.2 654.3L472.4 657.2L473.6 660.1L474.8 663.1L476.0 666.0L477.2 669.0L478.3 671.9L479.4 674.9L480.5 677.9L481.6 680.8L482.7 683.8L483.7 686.8L484.7 689.8L485.7 692.8L486.7 695.8L487.6 698.9L488.6 701.9L489.5 704.9L490.4 708.0L491.2 711.0L492.0 714.1L492.8 717.1L493.6 720.2L494.4 723.2L495.1 726.3L495.8 729.4L496.5 732.5L497.1 735.6L497.7 738.7L498.3 741.8L498.9 744.9L499.4 748.0L499.9 751.1L500.4 754.3L500.8 757.4L501.2 760.5L501.6 763.7L501.9 766.8L502.2 770.0L502.5 773.1L502.8 776.3L503.0 779.5L503.1 782.6L503.3 785.8L503.4 789.0L503.4 792.2L503.5 795.4L503.4 798.6L503.3 801.7L503.2 804.9L503.0 808.1L502.7 811.2L502.3 814.4L501.9 817.5L501.4 820.6L500.7 823.7L500.0 826.7L499.2 829.8L498.2 832.8L497.2 835.8L496.0 838.7L494.8 841.6L493.3 844.5L491.8 847.3L490.1 850.0L488.3 852.6L486.4 855.1L484.3 857.5L482.1 859.8L479.7 862.0L477.2 864.0L474.5 865.9L471.7 867.6L468.9 869.1L465.9 870.5L462.9 871.7L459.8 872.7L456.7 873.5L453.6 874.1L450.4 874.6L447.3 874.8L444.1 874.8L441.0 874.5L438.0 874.1L435.0 873.4L432.0 872.6L429.1 871.5L426.2 870.3L423.4 869.0L420.6 867.4L418.0 865.7L415.4 863.9L412.9 861.9L410.5 859.8L408.2 857.6L406.0 855.3L403.9 852.8L401.9 850.3L400.0 847.7L398.3 845.0L396.7 842.2L395.2 839.4L393.8 836.5L392.6 833.6L391.6 830.7L390.7 827.7L389.9 824.6L389.2 821.6L388.7 818.5L388.2 815.4L387.9 812.2L387.6 809.1L387.4 805.9L387.3 802.7L387.3 799.5L387.3 796.3L387.4 793.1L387.6 789.9L387.7 786.7L388.0 783.6L388.2 780.4L388.5 777.2L388.8 774.0L389.2 770.9L389.6 767.7L390.0 764.6L390.4 761.4L390.9 758.3L391.4 755.2L391.9 752.1L392.5 749.0L393.1 745.9L393.7 742.8L394.3 739.7L395.0 736.6L395.7 733.5L396.4 730.4L397.1 727.4L397.9 724.3L398.7 721.2L399.5 718.2L400.3 715.1L401.2 712.1L402.1 709.1L403.0 706.0L403.9 703.0L404.8 700.0L405.8 697.0L406.7 694.0L407.7 691.0L408.7 688.0L409.8 685.0L410.8 682.0L411.9 679.0L412.9 676.1L414.0 673.1L415.1 670.1L416.2 667.2L417.4 664.2L418.5 661.2L419.7 658.3L420.8 655.3L422.0 652.4L423.2 649.5L424.4 646.5L425.6 643.6L426.8 640.7L428.0 637.7L429.3 634.8L430.5 631.9L431.8 629.0L433.0 626.1L434.3 623.2L435.6 620.3L436.8 617.4L438.1 614.5L439.4 611.6L440.7 608.7L441.9 605.8L443.2 602.9L444.9 600.2Z" fill="none" stroke="#454545" stroke-width="2.8"/>

<!-- bearing (top half), mirrored for bottom -->
<g id="brg">
 <!-- left washer -->
 <rect x="594" y="300" width="55" height="25" fill="#f3f3f3"/>
 <rect x="602.7" y="306" width="36.6" height="19" fill="#ebebeb"/>
 <path d="M594 324V180Q594 170.6 603.5 170.6H641L648.5 178.5V297.5L639.3 306.7H602.7L593.5 298" fill="#ebebeb" stroke="#999" stroke-width="2.7" stroke-linejoin="round"/>
 <path d="M602.7 306.7V324M639.3 306.7V324M648.5 297V324M593.5 298V324" fill="none" stroke="#999" stroke-width="2.9"/>
 <rect x="648" y="180" width="5" height="23" fill="#999"/>
 <rect x="736" y="183" width="5.5" height="20" fill="#999"/>
 <!-- cage top -->
 <rect x="652.5" y="169.8" width="83.8" height="30" fill="#ebebeb" stroke="#999" stroke-width="3"/>
 <rect x="651" y="197.5" width="86.8" height="6.5" fill="#999"/>
 <!-- cage bottom -->
 <rect x="665.05" y="295.4" width="58.6" height="28.5" fill="#ebebeb" stroke="#999" stroke-width="3.5"/>
 <!-- roller -->
 <rect x="649.3" y="202" width="90.1" height="91" rx="4.5" ry="4.5" fill="#ebebeb" stroke="#999" stroke-width="3.2"/>
 <rect x="650.9" y="203.6" width="86.9" height="8.3" fill="url(#gHi1)"/>
 <rect x="650.9" y="283.6" width="86.9" height="7.8" fill="url(#gHi2)"/>
 <rect x="663.3" y="291.5" width="62.1" height="6" fill="#999"/>
 <!-- right washer -->
 <rect x="786" y="316" width="8" height="8" fill="#999"/>
 <path d="M741.3 324V180Q741.3 170 751.3 170H785.5L794 178.5V318Q794 324 788 324Z" fill="#f6f6f6" stroke="none"/>
 <path d="M741.3 313.5V180Q741.3 170 751.3 170H785.5L794 178.5V318Q794 323.6 788 323.6H750.3Z" fill="#ebebeb" stroke="#999" stroke-width="2.8" stroke-linejoin="round"/>
 <path d="M741.3 313V324" fill="none" stroke="#999" stroke-width="2.8"/>
</g>
<use href="#brg" transform="translate(0,1200) scale(1,-1)"/>

<!-- dark outlines -->
<g fill="none" stroke="#4d4d4d" stroke-width="3.4">
 <path d="M641 0V170H600Q593.5 170 593.5 176.5V306H447"/>
 <path d="M641 1200V1030H600Q593.5 1030 593.5 1023.5V894H447"/>
 <path d="M445 325H795M445 875H795"/>
 <path d="M895 179H795V1021H895"/>
</g>
<g fill="none" stroke="#454545" stroke-width="2.8">
 <path d="M444.9 599.8L443.7 597.4L442.4 595.0L441.2 592.6L439.9 590.1L438.7 587.7L437.5 585.3L436.4 582.8L435.2 580.4L434.1 577.9L433.0 575.5L431.9 573.0L430.8 570.6L429.8 568.1L428.7 565.6L427.7 563.2L426.7 560.7L425.7 558.2L424.7 555.7L423.8 553.2L422.8 550.7L421.9 548.2L420.9 545.7L420.0 543.2L419.1 540.6L418.2 538.1L417.3 535.6L416.4 533.0L415.5 530.5L414.7 528.0L413.8 525.4L412.9 522.9L412.1 520.3L411.2 517.7L410.4 515.2L409.5 512.6L408.7 510.0L407.9 507.5L407.0 504.9L406.2 502.3L405.3 499.7L404.5 497.1L403.7 494.5L402.9 491.9L402.0 489.3L401.2 486.7L400.4 484.1L399.7 481.5L398.9 478.9L398.2 476.3L397.5 473.7L396.8 471.1L396.1 468.5L395.4 465.9L394.8 463.3L394.2 460.7L393.7 458.1L393.1 455.5L392.6 452.9L392.2 450.3L391.7 447.7L391.3 445.1L390.9 442.5L390.5 439.9L390.1 437.3L389.8 434.7L389.5 432.0L389.2 429.4L388.9 426.7L388.6 424.1L388.4 421.4L388.1 418.7L387.9 416.0L387.7 413.2L387.5 410.5L387.4 407.7L387.2 405.0L387.1 402.2L387.0 399.4L387.0 396.6L386.9 393.8L387.0 391.1L387.0 388.3L387.1 385.5L387.3 382.8L387.5 380.0L387.8 377.3L388.2 374.6L388.6 372.0L389.1 369.3L389.7 366.7L390.3 364.1L391.0 361.6L391.9 359.1L392.8 356.6L393.8 354.2L394.9 351.8L396.1 349.5L397.4 347.2L398.8 345.0L400.4 342.9L402.0 340.8L403.8 338.8L405.7 336.8L407.6 335.0L409.7 333.3L411.9 331.8L414.2 330.3L416.6 329.1L419.1 328.0L421.6 327.1L424.3 326.5L427.0 326.0L429.7 325.6L432.5 325.4L435.3 325.3L438.1 325.2L440.8 325.1L443.5 325.0L446.0 325.0"/>
 <path d="M895.5 602.0L896.4 605.5L897.3 609.0L898.2 612.5L899.2 616.0L900.3 619.4L901.4 622.9L902.5 626.3L903.7 629.7L904.9 633.0L906.2 636.4L907.4 639.8L908.7 643.1L910.0 646.5L911.3 649.8L912.6 653.1L913.9 656.5L915.2 659.8L916.6 663.2L917.9 666.5L919.1 669.9L920.4 673.2L921.7 676.6L922.9 680.0L924.1 683.4L925.3 686.8L926.5 690.2L927.6 693.6L928.8 697.0L929.9 700.5L931.0 703.9L932.1 707.4L933.2 710.8L934.3 714.3L935.3 717.7L936.4 721.2L937.4 724.7L938.4 728.1L939.4 731.6L940.4 735.1L941.3 738.6L942.3 742.1L943.2 745.5L944.2 749.0L945.1 752.5L946.0 756.0L946.9 759.5L947.7 763.0L948.6 766.5L949.4 770.0L950.3 773.5L951.1 776.9L951.9 780.4L952.7 783.9L953.5 787.4L954.3 790.9L955.0 794.4L955.8 797.9L956.5 801.4L957.2 804.9L957.9 808.4L958.6 811.9L959.3 815.4L959.9 818.9L960.5 822.4L961.1 826.0L961.7 829.5L962.3 833.0L962.9 836.5L963.4 840.1L963.9 843.6L964.4 847.2L964.9 850.7L965.3 854.3L965.8 857.9L966.2 861.4L966.6 865.0L966.9 868.6L967.3 872.2L967.6 875.8L967.9 879.4L968.2 883.1L968.4 886.7L968.6 890.3L968.8 894.0L969.0 897.6L969.1 901.3L969.2 905.0L969.3 908.6L969.3 912.3L969.2 915.9L969.1 919.6L969.0 923.2L968.7 926.8L968.5 930.4L968.1 934.0L967.7 937.6L967.2 941.2L966.7 944.7L966.0 948.3L965.3 951.8L964.5 955.2L963.6 958.7L962.6 962.1L961.5 965.5L960.4 968.9L959.1 972.2L957.7 975.5L956.2 978.7L954.6 981.9L952.9 985.1L951.0 988.2L949.1 991.2L947.0 994.2L944.8 997.0L942.4 999.7L940.0 1002.3L937.4 1004.8L934.6 1007.1L931.8 1009.3L928.8 1011.2L925.6 1013.0L922.3 1014.6L919.0 1016.0L915.5 1017.2L912.0 1018.3L908.4 1019.1L904.8 1019.6L901.2 1020.0L897.6 1020.2"/>
</g>

<!-- centre line -->
<g stroke="#000" stroke-width="3" stroke-linecap="round" fill="none">
 <path d="M415 600H467.5M495.5 600H501M528.5 600H646.5M674 600H679.5M707 600H824.5M852.75 600H858M885.5 600H938.5"/>
</g>
<!-- dimension lines -->
<g stroke="#000" stroke-width="3" stroke-linecap="round" fill="none">
 <path d="M279.5 306.25H447M279.5 893.75H447"/>
 <path d="M895 179H1071M895 1021H1071"/>
 <path d="M299.5 370V830M1060.75 240V960"/>
 <path d="M471.5 73.5L540 127.2"/>
 <path d="M928.8 430.7L851.1 369.6"/>
</g>
<g fill="#000">
 <path d="M299.5 307L310 378H289Z"/>
 <path d="M299.5 893L310 822H289Z"/>
 <path d="M1060.75 180L1071.25 250.5H1050.25Z"/>
 <path d="M1060.75 1020L1071.25 949.5H1050.25Z"/>
 <path d="M595.2 170.2L546.4 118.9L533.5 135.4Z"/>
 <path d="M795.6 326.4L857.6 361.3L844.6 377.9Z"/>
</g>
<!-- labels -->
<g style="will-change:transform" opacity="0.999">
<text x="492.4" y="76.7" font-size="63">r</text><text x="512.5" y="93" font-size="48">a</text>
<text x="880.7" y="378" font-size="63">r</text><text x="900.5" y="394" font-size="48">a</text>
<text x="216.5" y="625.5" font-size="63">D</text><text x="260.3" y="641.5" font-size="48">a</text>
<text transform="translate(1070.8 625.8) scale(1 0.965)" x="0" y="0" font-size="63">d</text><text x="1105" y="641.5" font-size="48">a</text>
</g>
</svg>
</body></html>
